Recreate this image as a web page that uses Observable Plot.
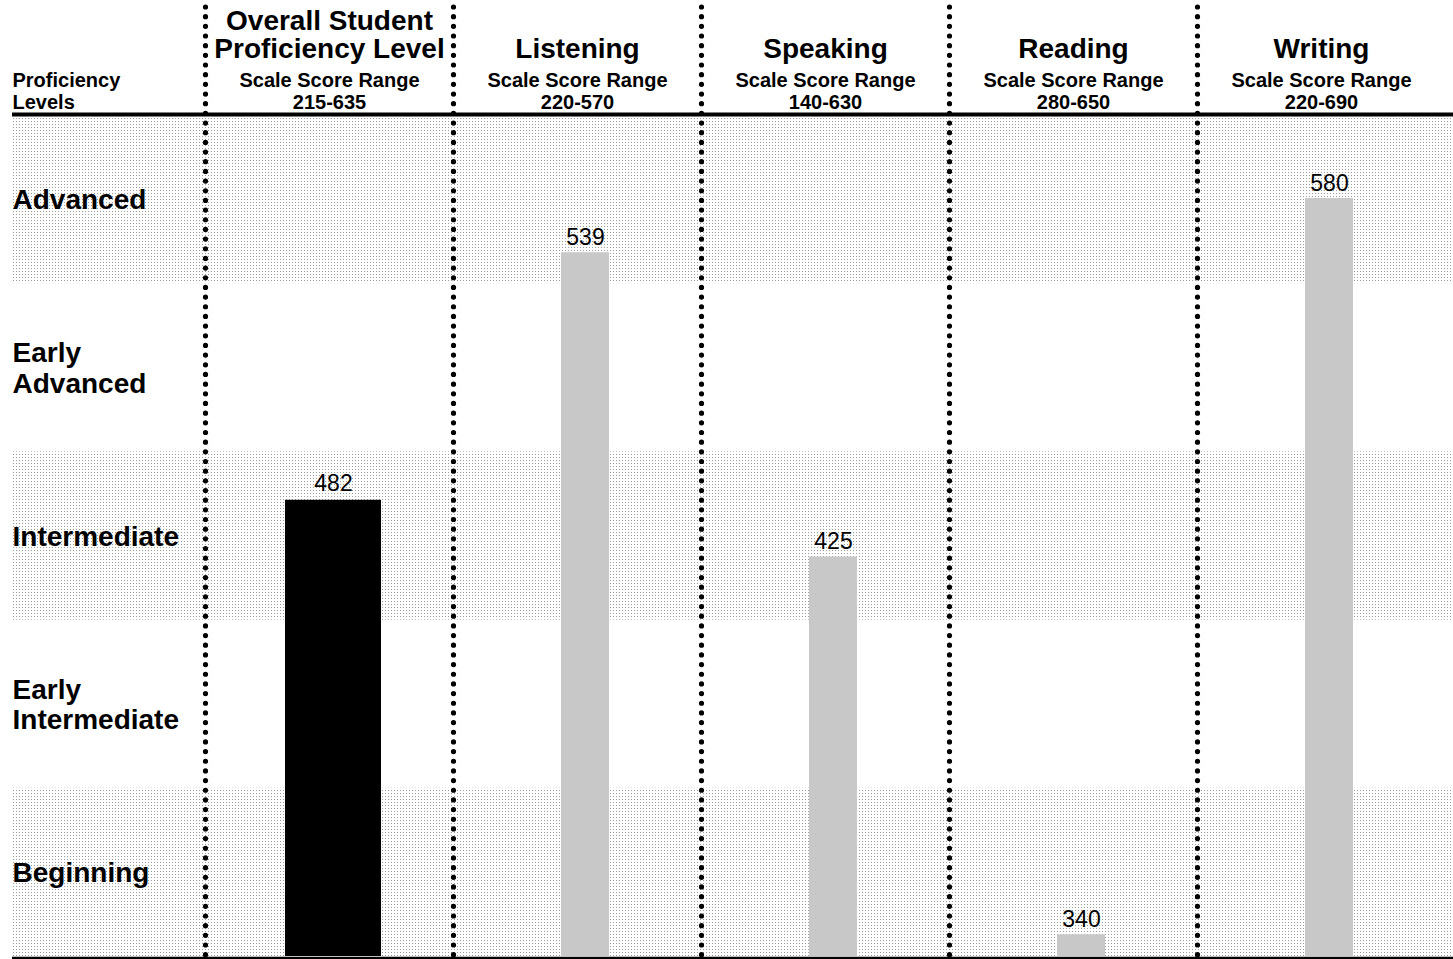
<!DOCTYPE html>
<html>
<head>
<meta charset="utf-8">
<script src="https://cdn.jsdelivr.net/npm/d3@7"></script>
<script src="https://cdn.jsdelivr.net/npm/@observablehq/plot@0.6"></script>
<style>
  html, body { margin: 0; padding: 0; background: #fff; }
  #chart svg { display: block; }
</style>
</head>
<body>
<div id="chart"></div>
<script>
// Score report columns
const domains = ["Overall", "Listening", "Speaking", "Reading", "Writing"];
const domainTitles = ["Overall Student\nProficiency Level", "Listening", "Speaking", "Reading", "Writing"];
const scoreRanges = ["215-635", "220-570", "140-630", "280-650", "220-690"];
const scores = [482, 539, 425, 340, 580];

// Proficiency levels, bottom to top
const levels = ["Beginning", "Early\nIntermediate", "Intermediate", "Early\nAdvanced", "Advanced"];
const shadedLevels = ["Beginning", "Intermediate", "Advanced"];

// Cut scores per domain: bar floor, Early Intermediate, Intermediate,
// Early Advanced, Advanced, top of the Advanced band
const cutsOverall   = [280, 360, 430, 503, 555, 635];
const cutsListening = [280, 370, 420, 480, 532, 570];
const cutsSpeaking  = [260, 350, 410, 450, 500, 630];
const cutsReading   = [320, 475, 520, 565, 605, 650];
const cutsWriting   = [300, 400, 450, 490, 540, 619];
const cutsByDomain = [cutsOverall, cutsListening, cutsSpeaking, cutsReading, cutsWriting];

// Each domain has its own piecewise scale from score to level position (0–5)
const levelIndex = levels.map((_, i) => i).concat(levels.length);
const levelScales = cutsByDomain.map(cuts =>
  Plot.scale({y: {type: "linear", domain: cuts, range: levelIndex}})
);

const bars = domains.map((domain, i) => ({
  domain,
  score: scores[i],
  level: levelScales[i].apply(scores[i])
}));
const overallBars = bars.filter(d => d.domain === "Overall");
const domainBars = bars.filter(d => d.domain !== "Overall");

const bandRows = levels.map((name, i) => ({name, lo: i, hi: i + 1, shaded: shadedLevels.includes(name)}));

const headers = domains.map((d, i) => ({domain: d, title: domainTitles[i], range: "Scale Score Range\n" + scoreRanges[i]}));

const font = "'Liberation Sans', Arial, Helvetica, sans-serif";

const chart = Plot.plot({
  width: 1453,
  height: 959,
  margin: 0,
  style: {fontFamily: font, background: "#fff", color: "#000"},
  x: {type: "band", domain: domains, range: [205, 1445], padding: 0, axis: null},
  y: {type: "linear", domain: [0, levels.length], range: [956, 115], axis: null},
  marks: [
    // alternating shaded level bands
    Plot.rect(bandRows.filter(d => d.shaded), {y1: "lo", y2: "hi", fill: "url(#dots)", insetLeft: 12}),

    // bars
    Plot.rectY(domainBars, {x: "domain", y: "level", fill: "#c8c8c8", insetLeft: 108, insetRight: 92}),
    Plot.rectY(overallBars, {x: "domain", y: "level", fill: "#000", insetLeft: 80, insetRight: 72}),

    // score labels
    Plot.text(domainBars, {x: "domain", y: "level", text: d => String(d.score), lineAnchor: "bottom", dy: -8, dx: 8, fontSize: 23, fill: "#000"}),
    Plot.text(overallBars, {x: "domain", y: "level", text: d => String(d.score), lineAnchor: "bottom", dy: -9, dx: 4, fontSize: 23, fill: "#000"}),

    // dotted column separators
    Plot.ruleX(domains, {x: d => d, dx: -124, insetTop: 7, stroke: "#000", strokeWidth: 5.2, strokeDasharray: "0 9.67", strokeLinecap: "round"}),

    // header rule and baseline
    Plot.ruleY([levels.length], {stroke: "#000", strokeWidth: 4, insetLeft: 12, dy: -1}),
    Plot.ruleY([0], {stroke: "#000", strokeWidth: 2.5, insetLeft: 12, dy: 1.5}),

    // level labels
    Plot.text(bandRows, {y: d => d.lo + 0.5, text: "name", frameAnchor: "left", textAnchor: "start", dx: 12, fontSize: 28, fontWeight: "bold", lineHeight: 1.1, fill: "#000"}),

    // column headers
    Plot.text(headers, {x: "domain", text: "title", frameAnchor: "top", lineAnchor: "bottom", dy: 57, fontSize: 28, fontWeight: "bold", lineHeight: 1.0, fill: "#000"}),
    Plot.text(headers, {x: "domain", text: "range", frameAnchor: "top", lineAnchor: "bottom", dy: 108, fontSize: 20, fontWeight: "bold", lineHeight: 1.1, fill: "#000"}),
    Plot.text(["Proficiency\nLevels"], {text: d => d, frameAnchor: "top-left", textAnchor: "start", lineAnchor: "bottom", dx: 12, dy: 108, fontSize: 20, fontWeight: "bold", lineHeight: 1.1, fill: "#000"})
  ]
});

// dot-screen pattern used for the shaded bands
const defs = d3.select(chart).insert("defs", ":first-child");
const pattern = defs.append("pattern")
  .attr("id", "dots")
  .attr("width", 3)
  .attr("height", 3)
  .attr("patternUnits", "userSpaceOnUse");
pattern.append("rect").attr("width", 3).attr("height", 3).attr("fill", "#fff");
pattern.append("rect").attr("x", 1).attr("y", 1).attr("width", 1).attr("height", 1).attr("fill", "#9c9c9c");

document.getElementById("chart").appendChild(chart);
</script>
</body>
</html>
